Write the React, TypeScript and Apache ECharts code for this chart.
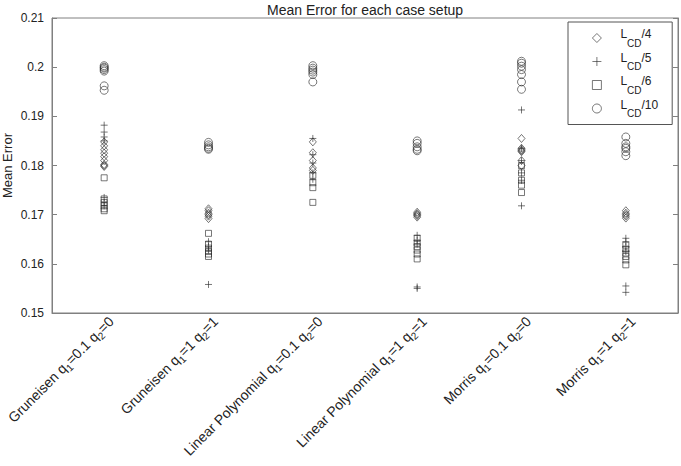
import React, { useEffect, useRef } from 'react';
import * as echarts from 'echarts';

const FONT = '"Liberation Sans", Arial, Helvetica, sans-serif';

// x categories
const modelNames = ['Gruneisen', 'Gruneisen', 'Linear Polynomial', 'Linear Polynomial', 'Morris', 'Morris'];
const q1Values = ['0.1', '1', '0.1', '1', '0.1', '1'];
const q2Values = ['0', '1', '0', '1', '0', '1'];
const categories = modelNames.map((m, i) => `${m} q1=${q1Values[i]} q2=${q2Values[i]}`);

// y ticks
const yTicks = [0.15, 0.16, 0.17, 0.18, 0.19, 0.2, 0.21];
const yTickLabels = ['0.15', '0.16', '0.17', '0.18', '0.19', '0.2', '0.21'];

// series (one inner array per category)
const lcd4: number[][] = [
  [0.1848, 0.184, 0.1832, 0.1825, 0.1818, 0.181, 0.1802, 0.18, 0.1798],
  [0.1712, 0.1708, 0.1703, 0.17, 0.1697, 0.1692],
  [0.1848, 0.1826, 0.181, 0.1795, 0.179],
  [0.1705, 0.1702, 0.17, 0.1698, 0.1695],
  [0.1855, 0.1835, 0.1832, 0.183, 0.1828, 0.181, 0.18],
  [0.1708, 0.1703, 0.17, 0.1697, 0.1693],
];
const lcd5: number[][] = [
  [0.1882, 0.1868, 0.1858, 0.185, 0.1735, 0.1725, 0.1718],
  [0.1645, 0.1635, 0.1628, 0.1558],
  [0.1855, 0.1822, 0.1805, 0.1785, 0.1772],
  [0.1658, 0.1648, 0.164, 0.1553, 0.155],
  [0.1913, 0.1835, 0.181, 0.1785, 0.177, 0.1718],
  [0.1652, 0.1645, 0.1635, 0.1625, 0.1555, 0.1542],
];
const lcd6: number[][] = [
  [0.1775, 0.1732, 0.1725, 0.1718, 0.1712, 0.1708],
  [0.1662, 0.164, 0.1632, 0.1625, 0.162, 0.1615],
  [0.178, 0.1765, 0.1755, 0.1725],
  [0.1652, 0.1642, 0.1635, 0.1628, 0.162, 0.161],
  [0.18, 0.1785, 0.177, 0.176, 0.1745],
  [0.1638, 0.163, 0.1622, 0.1615, 0.1608, 0.1598],
];
const lcd10: number[][] = [
  [0.2003, 0.2, 0.1998, 0.1995, 0.1992, 0.1962, 0.1953],
  [0.1847, 0.1842, 0.1838, 0.1835, 0.1833],
  [0.2003, 0.1998, 0.1994, 0.199, 0.1985, 0.197],
  [0.185, 0.1845, 0.1838, 0.1833, 0.183],
  [0.2012, 0.2008, 0.2002, 0.1995, 0.1985, 0.197, 0.1955],
  [0.1858, 0.1845, 0.1838, 0.1835, 0.1828, 0.182],
];

const seriesNames = ['LCD/4', 'LCD/5', 'LCD/6', 'LCD/10'];
const seriesValues = [lcd4, lcd5, lcd6, lcd10];
const seriesSymbols: any[] = ['diamond', 'path://M0,4L8,4M4,0L4,8', 'rect', 'circle'];
const seriesSizes: any[] = [[7, 8], 7, 6, 8];

const MARK = '#2a2a2a';
const FRAME = '#808080';

export default function App() {
  const ref = useRef<HTMLDivElement>(null);
  useEffect(() => {
    if (!ref.current) return;
    const chart = echarts.init(ref.current, undefined, { renderer: 'svg' });
    const series = seriesNames.map((name, si) => ({
      type: 'scatter',
      name,
      symbol: seriesSymbols[si],
      symbolSize: seriesSizes[si],
      itemStyle: { color: 'transparent', borderColor: MARK, borderWidth: 0.8 },
      emphasis: { disabled: true },
      silent: true,
      data: seriesValues[si].flatMap((col, ci) => col.map((v) => [ci, v])),
    }));
    const option: any = {
      animation: false,
      textStyle: { fontFamily: FONT },
      title: {
        text: 'Mean Error for each case setup',
        left: 267,
        top: 3,
        padding: 0,
        textStyle: { fontSize: 14, fontWeight: 'normal', color: '#222', fontFamily: FONT },
      },
      grid: {
        left: 52,
        right: 3,
        top: 18,
        bottom: 153,
        outerBoundsMode: 'none',
        containLabel: false,
        show: true,
        borderColor: FRAME,
        borderWidth: 1,
        backgroundColor: '#fff',
      },
      legend: {
        orient: 'vertical',
        left: 568,
        top: 22,
        padding: [6, 14, 6, 24],
        itemGap: 3.5,
        itemWidth: 9,
        itemHeight: 9,
        backgroundColor: '#fff',
        borderColor: '#555',
        borderWidth: 1,
        borderRadius: 0,
        itemStyle: { color: 'transparent', borderColor: MARK, borderWidth: 0.8 },
        data: seriesNames,
        formatter: (name: string) => `{g|}{m|L}{s|CD}{m|${name.slice(3)}}`,
        textStyle: {
          fontFamily: FONT,
          color: '#222',
          rich: {
            g: { width: 14, height: 20, lineHeight: 20 },
            m: { fontSize: 12, lineHeight: 12, verticalAlign: 'top', fontFamily: FONT, color: '#222' },
            s: { fontSize: 10, lineHeight: 10, verticalAlign: 'bottom', fontFamily: FONT, color: '#222' },
          },
        },
      },
      xAxis: {
        type: 'category',
        data: categories,
        boundaryGap: true,
        axisLine: { show: true, lineStyle: { color: FRAME } },
        axisTick: { show: false },
        splitLine: { show: false },
        axisLabel: {
          interval: 0,
          rotate: 45,
          margin: -1,
          padding: [20, 0, 0, 0],
          color: '#222',
          formatter: (_v: string, i: number) =>
            `{n|${modelNames[i]} q}{s|1}{n|=${q1Values[i]} q}{s|2}{n|=${q2Values[i]}}`,
          rich: {
            n: { fontSize: 14, lineHeight: 20, fontFamily: FONT, color: '#222' },
            s: { fontSize: 10, lineHeight: 10, verticalAlign: 'bottom', fontFamily: FONT, color: '#222' },
          },
        },
      },
      yAxis: [
        {
          type: 'value',
          min: 0.15,
          max: 0.21,
          interval: 0.01,
          name: 'Mean Error',
          nameLocation: 'middle',
          nameGap: 38,
          nameMoveOverlap: false,
          nameTextStyle: { fontSize: 13, color: '#222', fontFamily: FONT },
          axisLine: { show: true, lineStyle: { color: FRAME } },
          axisTick: { show: true, inside: true, length: 5, lineStyle: { color: FRAME } },
          splitLine: { show: false },
          axisLabel: {
            color: '#222',
            fontSize: 12,
            margin: 8,
            formatter: (v: number) => {
              const idx = yTicks.findIndex((t) => Math.abs(t - v) < 1e-9);
              return idx >= 0 ? yTickLabels[idx] : '';
            },
          },
        },
        {
          type: 'value',
          position: 'right',
          min: 0.15,
          max: 0.21,
          interval: 0.01,
          axisLine: { show: true, lineStyle: { color: FRAME } },
          axisTick: { show: true, inside: true, length: 5, lineStyle: { color: FRAME } },
          splitLine: { show: false },
          axisLabel: { show: false },
        },
      ],
      series,
    };
    chart.setOption(option);
    return () => chart.dispose();
  }, []);
  return <div ref={ref} style={{ width: 681, height: 466, position: 'absolute', left: 0, top: 0, background: '#fff' }} />;
}
